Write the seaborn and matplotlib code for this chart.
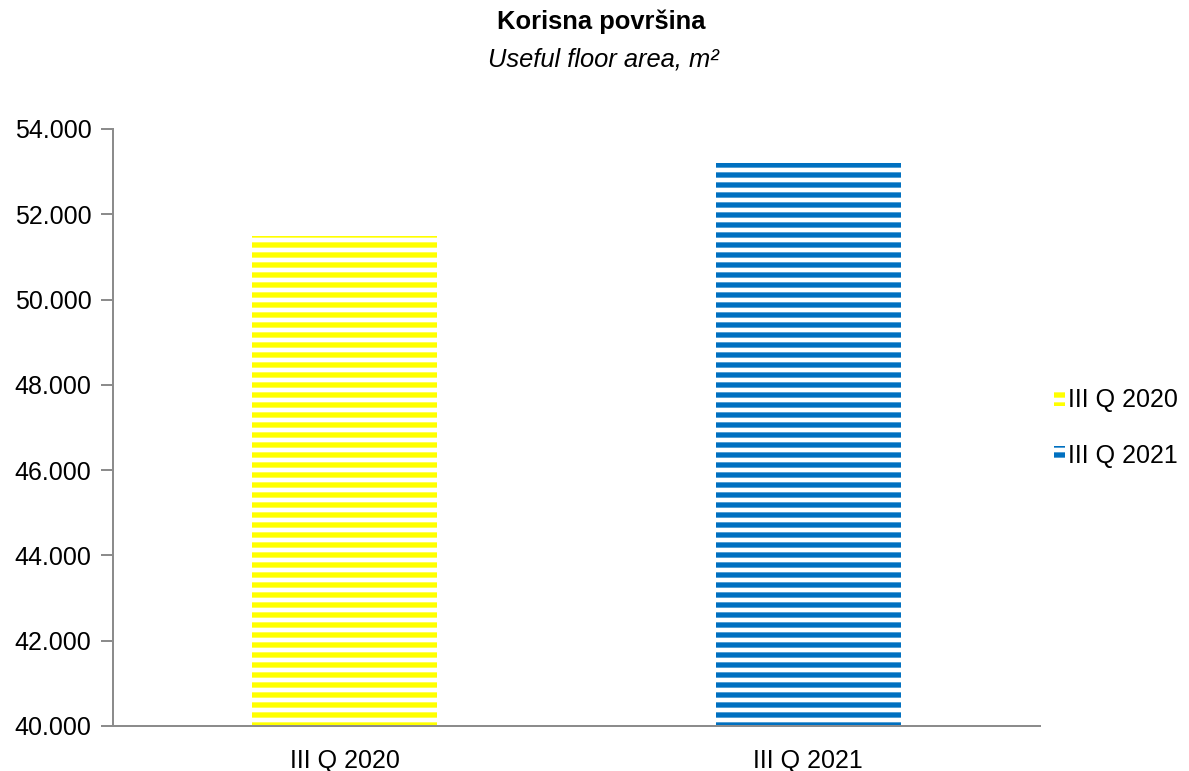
import matplotlib
matplotlib.use("Agg")
import matplotlib.pyplot as plt
import seaborn as sns
import pandas as pd
from matplotlib.patches import Patch
from matplotlib.ticker import FuncFormatter, FixedLocator

categories = ["III Q 2020", "III Q 2021"]
values = [51500, 53200]
colors = ["#FFFF00", "#0070C0"]
yticks = [40000, 42000, 44000, 46000, 48000, 50000, 52000, 54000]

sns.set_theme(style="white")
plt.rcParams['font.family'] = ['Liberation Sans', 'DejaVu Sans']
plt.rcParams['hatch.linewidth'] = 3.2
plt.rcParams['text.color'] = 'black'
plt.rcParams['xtick.color'] = 'black'
plt.rcParams['ytick.color'] = 'black'

DPI = 120
fig = plt.figure(figsize=(1189 / DPI, 771 / DPI), dpi=DPI)
ax = fig.add_axes([113 / 1189, 45 / 771, (1040 - 113) / 1189, (726 - 129) / 771])

df = pd.DataFrame({"cat": categories, "val": values})
sns.barplot(data=df, x="cat", y="val", hue="cat", palette=colors, width=0.4,
            legend=False, ax=ax, saturation=1)

for patch, c in zip(ax.patches, colors):
    patch.set_facecolor("white")
    patch.set_edgecolor(c)
    patch.set_hatch("--")
    patch.set_linewidth(0)

ax.set_ylim(40000, 54000)
ax.set_xlim(-0.5, 1.5)
ax.set_yticks(yticks)
ax.yaxis.set_major_formatter(FuncFormatter(lambda v, p: f"{int(v):,}".replace(",", ".")))
ax.set_xlabel("")
ax.set_ylabel("")

ax.xaxis.set_minor_locator(FixedLocator([-0.5, 0.5, 1.5]))
ax.tick_params(axis="x", which="major", length=0, pad=14, labelsize=15, labelcolor="black")
ax.tick_params(axis="x", which="minor", length=7, width=1.2, color="#8C8C8C", direction="out")
ax.tick_params(axis="y", which="major", length=7, width=1.2, color="#8C8C8C",
               direction="out", labelsize=15, pad=6, left=True, labelcolor="black")

for s in ["top", "right"]:
    ax.spines[s].set_visible(False)
for s in ["left", "bottom"]:
    ax.spines[s].set_color("#8C8C8C")
    ax.spines[s].set_linewidth(1.2)

fig.text(601 / 1189, 1 - 22 / 771, "Korisna površina", ha="center", va="center",
         fontsize=15.3, fontweight="bold", color="black")
fig.text(603 / 1189, 1 - 60 / 771, "Useful floor area, m²", ha="center", va="center",
         fontsize=15.3, style="italic", color="black")

handles = [Patch(facecolor="white", edgecolor=c, hatch="--", linewidth=0, label=l)
           for c, l in zip(colors, categories)]
leg = fig.legend(handles=handles, loc="center left", bbox_to_anchor=(1054 / 1189, 1 - 428 / 771),
                 frameon=False, fontsize=15, handlelength=0.45, handleheight=0.55,
                 handletextpad=0.1, labelspacing=1.25, borderpad=0, borderaxespad=0)
for t in leg.get_texts():
    t.set_color("black")

fig.savefig("out.png", dpi=DPI, facecolor="white")
